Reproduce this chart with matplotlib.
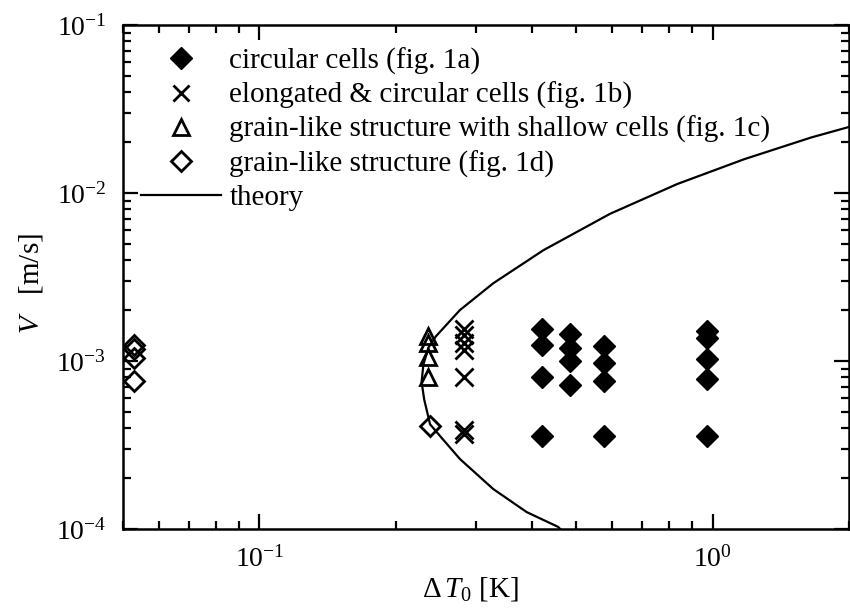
import matplotlib
matplotlib.use('Agg')
import matplotlib.pyplot as plt
from matplotlib.lines import Line2D
from matplotlib.ticker import LogLocator, NullFormatter

plt.rcParams['font.family'] = ['Liberation Serif', 'DejaVu Serif']
plt.rcParams['mathtext.fontset'] = 'custom'
plt.rcParams['mathtext.rm'] = 'Liberation Serif'
plt.rcParams['mathtext.it'] = 'Liberation Serif:italic'
plt.rcParams['mathtext.bf'] = 'Liberation Serif:bold'
plt.rcParams['axes.unicode_minus'] = False

# ---- data ----
circular_dT = [0.42, 0.42, 0.42, 0.42,
               0.485, 0.485, 0.485, 0.485,
               0.575, 0.575, 0.575, 0.575,
               0.97, 0.97, 0.97, 0.97, 0.97]
circular_V = [1.55e-3, 1.25e-3, 0.80e-3, 0.36e-3,
              1.45e-3, 1.20e-3, 1.00e-3, 0.72e-3,
              1.23e-3, 0.97e-3, 0.76e-3, 0.36e-3,
              1.50e-3, 1.37e-3, 1.03e-3, 0.78e-3, 0.36e-3]

elong_dT = [0.283, 0.283, 0.283, 0.283, 0.283, 0.283, 0.283]
elong_V = [1.55e-3, 1.42e-3, 1.28e-3, 1.17e-3, 0.80e-3, 0.39e-3, 0.37e-3]

shallow_dT = [0.236, 0.236, 0.236, 0.236]
shallow_V = [1.40e-3, 1.28e-3, 1.05e-3, 0.80e-3]

grain_dT = [0.053, 0.053, 0.053, 0.053, 0.238]
grain_V = [1.25e-3, 1.18e-3, 1.04e-3, 0.76e-3, 0.41e-3]

theory_dT = [0.47, 0.456, 0.389, 0.328, 0.277, 0.254, 0.238, 0.231, 0.228,
             0.230, 0.236, 0.245, 0.277, 0.328, 0.423, 0.594, 0.835, 1.175,
             1.65, 2.03]
theory_V = [0.95e-4, 1.03e-4, 1.26e-4, 1.73e-4, 2.61e-4, 3.42e-4, 4.2e-4,
            5.9e-4, 7.5e-4, 9.5e-4, 1.2e-3, 1.4e-3, 2.01e-3, 2.90e-3,
            4.56e-3, 7.52e-3, 1.13e-2, 1.59e-2, 2.14e-2, 2.5e-2]

labels = ['circular cells (fig. 1a)',
          'elongated & circular cells (fig. 1b)',
          'grain-like structure with shallow cells (fig. 1c)',
          'grain-like structure (fig. 1d)',
          'theory']

fig = plt.figure(figsize=(8.5, 6.08), dpi=100)
ax = fig.add_axes([123/850, 1-529/608, 726/850, (529-25)/608])

ax.plot(theory_dT, theory_V, color='black', lw=1.6, zorder=2)
ax.plot(circular_dT, circular_V, linestyle='none', marker='D', ms=11.5,
        mfc='black', mec='black', zorder=3)
ax.plot(elong_dT, elong_V, linestyle='none', marker='x', ms=13, mew=2,
        color='black', zorder=3)
ax.plot(shallow_dT, shallow_V, linestyle='none', marker='^', ms=11, mew=2,
        mfc='none', mec='black', zorder=3)
ax.plot(grain_dT, grain_V, linestyle='none', marker='D', ms=10.5, mew=2,
        mfc='none', mec='black', zorder=3)

ax.set_xscale('log')
ax.set_yscale('log')
ax.set_xlim(0.05, 2.0)
ax.set_ylim(1e-4, 1e-1)

ax.xaxis.set_major_locator(LogLocator(base=10, numticks=10))
ax.xaxis.set_minor_locator(LogLocator(base=10, subs=range(2, 10), numticks=20))
ax.xaxis.set_minor_formatter(NullFormatter())
ax.yaxis.set_minor_locator(LogLocator(base=10, subs=range(2, 10), numticks=20))
ax.yaxis.set_minor_formatter(NullFormatter())

ax.tick_params(which='both', direction='in', top=True, right=True,
               labelsize=20, width=1.6)
ax.tick_params(which='major', length=11, pad=12)
ax.tick_params(which='minor', length=6)
for s in ax.spines.values():
    s.set_linewidth(1.8)

ax.set_xlabel(r'$\Delta\,T_{\mathit{0}}$ [K]', fontsize=21, labelpad=2)
ax.xaxis.label.set_x(0.478)
ax.set_ylabel(r'$V$   [m/s]', fontsize=21, labelpad=8)
ax.yaxis.label.set_y(0.488)

handles = [
    Line2D([], [], linestyle='none', marker='D', ms=11, mfc='black', mec='black'),
    Line2D([], [], linestyle='none', marker='x', ms=12, mew=2, color='black'),
    Line2D([], [], linestyle='none', marker='^', ms=11, mew=2, mfc='none', mec='black'),
    Line2D([], [], linestyle='none', marker='D', ms=10, mew=2, mfc='none', mec='black'),
    Line2D([], [], color='black', lw=1.6),
]
ax.legend(handles, labels, loc='upper left', bbox_to_anchor=(0.0, 0.99),
          frameon=False, fontsize=21, handlelength=2.75, handletextpad=0.3,
          labelspacing=0.24, borderaxespad=0.2, borderpad=0.4)

fig.savefig('out.png', dpi=100)
